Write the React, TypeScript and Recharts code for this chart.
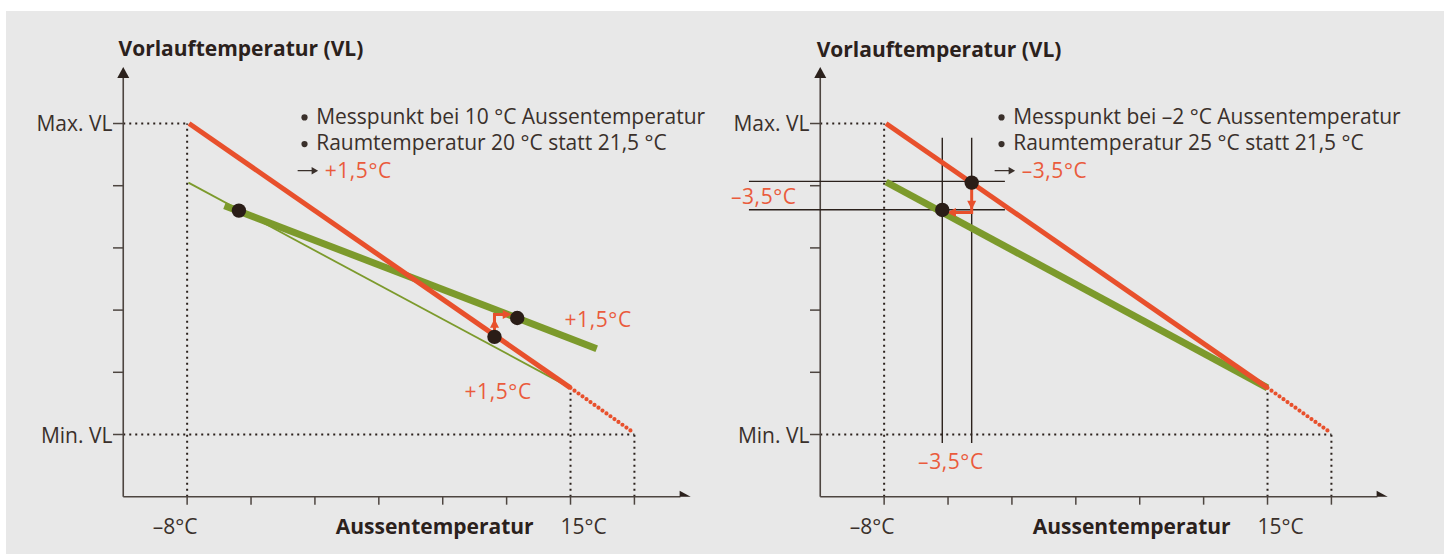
import React from 'react';
import { ComposedChart, Line, Scatter, XAxis, YAxis, ReferenceLine } from 'recharts';

// ---------- colours & styles ----------
const RED = '#e8502c';
const RED_TEXT = '#ea5b3c';
const GREEN = '#7c9a2c';
const DARK = '#2b211c';
const TEXT = '#3a302b';
const AXIS = '#4d4540';
const FONT = '"Open Sans", "Noto Sans", sans-serif';
const FONT_SIZE = 21;

// ---------- shared axis data (schematic units) ----------
const xTicks = [1, 2, 3, 4, 5, 6, 7, 8];
const yTicks = [1, 2, 3, 4, 5, 6];
const xTickLabels: Record<number, string> = { 1: '–8°C', 5: 'Aussentemperatur', 7: '15°C' };
const xTickBold: Record<number, boolean> = { 5: true };
const xTickShift: Record<number, number> = { 1: -12, 5: -8, 7: 13 };
const xDomain: [number, number] = [-1.6, 9.2];
const yDomain: [number, number] = [0, 7.6];
const yAxisTop = 6.75;
const xAxisEnd = 8.72;
const axisArrows = [
  { x: 0, y: 6.91, dir: 'up' },
  { x: 8.88, y: 0, dir: 'right' },
];
const minVL = 1;
const maxVL = 6;
const xMinus8 = 1;
const x15 = 7;
const xEnd = 8;

// ---------- left chart data ----------
const leftRed = [{ x: 1.03, y: 6 }, { x: 7, y: 1.75 }];
const leftRedTail = [{ x: 7, y: 1.75 }, { x: 8, y: 1.02 }];
const leftGreenThin = [{ x: 1.02, y: 5.05 }, { x: 7, y: 1.75 }];
const leftGreenThick = [{ x: 1.585, y: 4.68 }, { x: 7.41, y: 2.38 }];
const leftPoints = [{ x: 1.81, y: 4.6 }, { x: 6.166, y: 2.873 }, { x: 5.81, y: 2.57 }];
const leftArrowStem = [{ x: 5.81, y: 2.6 }, { x: 5.81, y: 2.954 }];
const leftArrowBar = [{ x: 5.81, y: 2.93 }, { x: 6.0, y: 2.93 }];
const leftArrowHeads = [
  { x: 5.81, y: 2.86, dir: 'up' },
  { x: 6.08, y: 2.93, dir: 'right' },
];
const leftLabels = [
  { x: -0.074, y: 7.2, text: 'Vorlauftemperatur (VL)', bold: true },
  { x: -0.17, y: 6, text: 'Max. VL', anchor: 'end' },
  { x: -0.17, y: 0.98, text: 'Min. VL', anchor: 'end' },
  { x: 3.02, y: 6.114, text: 'Messpunkt bei 10 °C Aussentemperatur', bullet: true },
  { x: 3.02, y: 5.686, text: 'Raumtemperatur 20 °C statt 21,5 °C', bullet: true },
  { x: 3.152, y: 5.241, text: '+1,5°C', red: true, arrow: true },
  { x: 6.906, y: 2.846, text: '+1,5°C', red: true },
  { x: 5.341, y: 1.693, text: '+1,5°C', red: true },
];

// ---------- right chart data ----------
const rightRed = [{ x: 1.03, y: 6 }, { x: 7, y: 1.75 }];
const rightRedTail = [{ x: 7, y: 1.75 }, { x: 8, y: 1.02 }];
const rightGreen = [{ x: 1.03, y: 5.06 }, { x: 7, y: 1.75 }];
const rightPoints = [{ x: 2.37, y: 5.05 }, { x: 1.91, y: 4.61 }];
const rightCrossV = [1.91, 2.37];
const rightCrossH = [5.07, 4.614];
const rightCrossVRange: [number, number] = [0.863, 5.77];
const rightCrossHRange: [number, number] = [-1.116, 2.89];
const rightArrowStem = [{ x: 2.37, y: 5.0 }, { x: 2.37, y: 4.547 }];
const rightArrowBar = [{ x: 2.37, y: 4.571 }, { x: 2.06, y: 4.571 }];
const rightArrowHeads = [
  { x: 2.37, y: 4.614, dir: 'down' },
  { x: 1.983, y: 4.571, dir: 'left' },
];
const rightLabels = [
  { x: -0.056, y: 7.19, text: 'Vorlauftemperatur (VL)', bold: true },
  { x: -0.17, y: 6, text: 'Max. VL', anchor: 'end' },
  { x: -0.17, y: 0.98, text: 'Min. VL', anchor: 'end' },
  { x: 3.02, y: 6.114, text: 'Messpunkt bei –2 °C Aussentemperatur', bullet: true },
  { x: 3.02, y: 5.686, text: 'Raumtemperatur 25 °C statt 21,5 °C', bullet: true },
  { x: 3.152, y: 5.241, text: '–3,5°C', red: true, arrow: true },
  { x: -0.369, y: 4.828, text: '–3,5°C', red: true, anchor: 'end' },
  { x: 2.045, y: 0.568, text: '–3,5°C', red: true, anchor: 'middle' },
];

// ---------- shapes ----------
const LabelShape = (props: any) => {
  const { cx, cy, payload } = props;
  if (cx == null || cy == null) return <g />;
  const p = payload || {};
  return (
    <g>
      {p.bullet && <circle cx={cx - 11.7} cy={cy + 1} r={3.1} fill={TEXT} />}
      {p.arrow && (
        <g>
          <line x1={cx - 27} y1={cy} x2={cx - 12} y2={cy} stroke={TEXT} strokeWidth={1.3} />
          <path d={`M${cx - 6.5},${cy} L${cx - 13},${cy - 3.8} L${cx - 13},${cy + 3.8} Z`} fill={TEXT} />
        </g>
      )}
      <text
        x={cx}
        y={cy}
        dy="0.35em"
        textAnchor={p.anchor || 'start'}
        fontFamily={FONT}
        fontSize={FONT_SIZE}
        fontWeight={p.bold ? 700 : 400}
        letterSpacing={p.red ? 0.6 : 0}
        fill={p.red ? RED_TEXT : p.bold ? DARK : TEXT}
      >
        {p.text}
      </text>
    </g>
  );
};

const makeHead = (color: string, len: number, half: number) => (props: any) => {
  const { cx, cy, payload } = props;
  if (cx == null || cy == null) return <g />;
  const d = payload?.dir;
  let path = '';
  if (d === 'up') path = `M${cx},${cy} L${cx - half},${cy + len} L${cx + half},${cy + len} Z`;
  else if (d === 'down') path = `M${cx},${cy} L${cx - half},${cy - len} L${cx + half},${cy - len} Z`;
  else if (d === 'right') path = `M${cx},${cy} L${cx - len},${cy - half} L${cx - len},${cy + half} Z`;
  else path = `M${cx},${cy} L${cx + len},${cy - half} L${cx + len},${cy + half} Z`;
  return <path d={path} fill={color} />;
};
const AxisHead = makeHead(DARK, 11, 6);
const RedHead = makeHead(RED, 9, 4.5);
const DotShape = (props: any) => {
  const { cx, cy } = props;
  if (cx == null || cy == null) return <g />;
  return <circle cx={cx} cy={cy} r={7.2} fill="#2a1d17" />;
};

const XTick = (props: any) => {
  const { x, y, payload } = props;
  const v = payload?.value;
  const label = xTickLabels[v];
  if (!label) return <g />;
  return (
    <text
      x={x + (xTickShift[v] || 0)}
      y={y + 19.5}
      dy="0.35em"
      textAnchor="middle"
      fontFamily={FONT}
      fontSize={FONT_SIZE}
      fontWeight={xTickBold[v] ? 700 : 400}
      fill={xTickBold[v] ? DARK : TEXT}
    >
      {label}
    </text>
  );
};

const dotted = { stroke: DARK, strokeWidth: 2, strokeDasharray: '2 4' };

// ---------- panel ----------
type PanelProps = { variant: 'left' | 'right' };

const Panel = ({ variant }: PanelProps) => {
  const left = variant === 'left';
  const red = left ? leftRed : rightRed;
  const tail = left ? leftRedTail : rightRedTail;
  const labels = left ? leftLabels : rightLabels;
  const points = left ? leftPoints : rightPoints;
  const stem = left ? leftArrowStem : rightArrowStem;
  const bar = left ? leftArrowBar : rightArrowBar;
  const heads = left ? leftArrowHeads : rightArrowHeads;

  return (
    <ComposedChart width={690.1} height={522.7} margin={{ top: 0, right: 0, bottom: 0, left: 0 }}>
      <XAxis
        type="number"
        dataKey="x"
        domain={xDomain}
        ticks={xTicks}
        interval={0}
        allowDataOverflow
        axisLine={false}
        tickLine={{ stroke: AXIS, strokeWidth: 1.5 }}
        tickSize={8}
        height={50}
        tick={<XTick />}
      />
      <YAxis type="number" dataKey="y" domain={yDomain} allowDataOverflow hide />

      {/* dotted guides */}
      <ReferenceLine segment={[{ x: 0, y: maxVL }, { x: xMinus8, y: maxVL }]} {...dotted} ifOverflow="visible" />
      <ReferenceLine segment={[{ x: xMinus8, y: 0 }, { x: xMinus8, y: maxVL }]} {...dotted} ifOverflow="visible" />
      <ReferenceLine segment={[{ x: 0, y: minVL }, { x: xEnd, y: minVL }]} {...dotted} ifOverflow="visible" />
      <ReferenceLine segment={[{ x: x15, y: 0 }, { x: x15, y: tail[0].y }]} {...dotted} ifOverflow="visible" />
      <ReferenceLine segment={[{ x: xEnd, y: 0 }, { x: xEnd, y: tail[1].y }]} {...dotted} ifOverflow="visible" />

      {/* axes */}
      <ReferenceLine segment={[{ x: 0, y: 0 }, { x: 0, y: yAxisTop }]} stroke={AXIS} strokeWidth={1.6} ifOverflow="visible" />
      <ReferenceLine segment={[{ x: 0, y: 0 }, { x: xAxisEnd, y: 0 }]} stroke={AXIS} strokeWidth={1.6} ifOverflow="visible" />
      {yTicks.map((t) => (
        <ReferenceLine key={`yt${t}`} segment={[{ x: -0.16, y: t }, { x: 0, y: t }]} stroke={AXIS} strokeWidth={1.5} ifOverflow="visible" />
      ))}

      {/* crosshair lines (right only) */}
      {!left &&
        rightCrossV.map((v) => (
          <ReferenceLine key={`cv${v}`} segment={[{ x: v, y: rightCrossVRange[0] }, { x: v, y: rightCrossVRange[1] }]} stroke={DARK} strokeWidth={1.4} ifOverflow="visible" />
        ))}
      {!left &&
        rightCrossH.map((h) => (
          <ReferenceLine key={`ch${h}`} segment={[{ x: rightCrossHRange[0], y: h }, { x: rightCrossHRange[1], y: h }]} stroke={DARK} strokeWidth={1.4} ifOverflow="visible" />
        ))}

      {/* curves */}
      {left && (
        <Line data={leftGreenThin} dataKey="y" stroke={GREEN} strokeWidth={1.8} dot={false} activeDot={false} isAnimationActive={false} />
      )}
      <Line
        data={left ? leftGreenThick : rightGreen}
        dataKey="y"
        stroke={GREEN}
        strokeWidth={7}
        dot={false}
        activeDot={false}
        isAnimationActive={false}
      />
      <Line data={red} dataKey="y" stroke={RED} strokeWidth={5} dot={false} activeDot={false} isAnimationActive={false} />
      <Line
        data={tail}
        dataKey="y"
        stroke={RED}
        strokeWidth={4.2}
        strokeDasharray="0 4.9"
        strokeLinecap="round"
        dot={false}
        activeDot={false}
        isAnimationActive={false}
      />

      {/* red shift arrows */}
      <Line data={stem} dataKey="y" stroke={RED} strokeWidth={3} dot={false} activeDot={false} isAnimationActive={false} />
      <Line data={bar} dataKey="y" stroke={RED} strokeWidth={3} dot={false} activeDot={false} isAnimationActive={false} />
      <Scatter data={heads} shape={RedHead} isAnimationActive={false} />

      {/* measurement points */}
      <Scatter data={points} shape={DotShape} isAnimationActive={false} />

      {/* axis arrow heads */}
      <Scatter data={axisArrows} shape={AxisHead} isAnimationActive={false} />

      {/* texts */}
      <Scatter data={labels} shape={LabelShape} isAnimationActive={false} />
    </ComposedChart>
  );
};

export default function App() {
  return (
    <div style={{ position: 'absolute', left: 0, top: 0, width: 1449, height: 554, background: '#ffffff', overflow: 'hidden' }}>
      <div style={{ position: 'absolute', left: 6, top: 11, width: 1438, height: 543, background: '#e8e8e8' }} />
      <div style={{ position: 'absolute', left: 21.46, top: 24.3 }}>
        <Panel variant="left" />
      </div>
      <div style={{ position: 'absolute', left: 718.06, top: 24.3 }}>
        <Panel variant="right" />
      </div>
    </div>
  );
}
